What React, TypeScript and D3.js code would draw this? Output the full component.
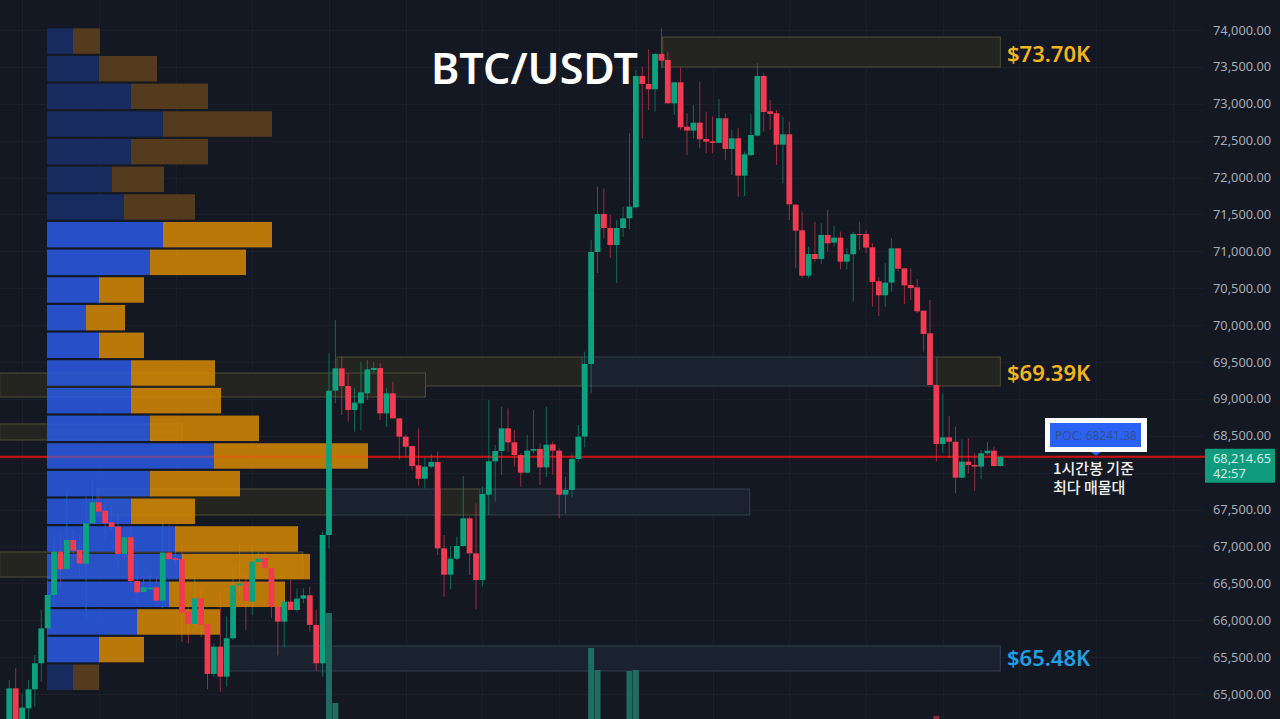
import { useEffect, useRef } from "react";
import * as d3 from "d3";

const WIDTH = 1280;
const HEIGHT = 719;

// 1h candles, oldest first
const opens = [
  64467, 65077, 64500, 64806, 65064, 65416, 65890, 66342, 66930, 66695,
  67088, 66952, 66767, 67314, 67598, 67485, 67327, 67268, 66898, 67124,
  66532, 66383, 66419, 66446, 66265, 66916, 66839, 66826, 66116, 65949,
  66297, 65945, 65272, 65642, 65235, 65755, 66469, 66514, 66252, 66790,
  66844, 66704, 66184, 65981, 66252, 66139, 66293, 66338, 65936, 65416,
  67155, 69111, 69414, 69174, 68849, 68940, 69075, 69391, 69418, 68804,
  69075, 68736, 68488, 68361, 68099, 67918, 68081, 68144, 66974, 66617,
  66834, 67006, 67381, 66906, 66545, 67702, 68153, 68294, 68601, 68411,
  68239, 68000, 68298, 68321, 68072, 68384, 68298, 67702, 67765, 68185,
  68488, 69473, 70991, 71506, 71316, 71086, 71316, 71448, 71597, 73377,
  73269, 73196, 73675, 73594, 73006, 73291, 72690, 72636, 72744, 72523,
  72491, 72469, 72803, 72388, 72532, 72026, 72306, 72568, 73377, 72898,
  72871, 72446, 72586, 71633, 71285, 70670, 70964, 70896, 71222, 71118,
  71185, 70860, 70960, 71235, 71235, 71054, 70594, 70404, 70576, 71041,
  70770, 70544, 70512, 70196, 69889, 69188, 68389, 68479, 68420, 67932,
  68149, 68104, 68082, 68262, 68298, 68090,
];
const highs = [
  65190, 65348, 65010, 65190, 65529, 66139, 66546, 67155, 67178, 67720,
  67223, 67133, 67675, 67900, 67788, 67562, 67562, 67449, 67155, 67268,
  66817, 66591, 66636, 66591, 67336, 67291, 66930, 67043, 66184, 66591,
  66455, 65958, 65687, 66365, 66049, 66771, 67043, 66636, 67020, 66930,
  66930, 66726, 66184, 66275, 66546, 66433, 66433, 66455, 66139, 67201,
  69617, 70068, 69572, 69346, 69143, 69504, 69527, 69504, 69482, 69143,
  69233, 68736, 68510, 68361, 68601, 68208, 68253, 68284, 67155, 67006,
  67132, 67955, 67404, 67584, 67810, 68985, 68375, 68894, 68872, 68578,
  68262, 68510, 68849, 68397, 68894, 68420, 68330, 67946, 68262, 68646,
  69640, 71154, 71877, 71854, 71493, 71425, 71606, 72600, 73458, 73503,
  73738, 73684, 74023, 73707, 73291, 73494, 72871, 72984, 73300, 72894,
  72826, 73061, 72871, 72645, 72668, 72351, 72857, 73549, 73413, 73052,
  72916, 72826, 72758, 71633, 71538, 71063, 71402, 71380, 71560, 71344,
  71267, 71041, 71267, 71402, 71289, 71109, 70648, 70838, 71176, 71041,
  70770, 70770, 70621, 70196, 70340, 69188, 69076, 68768, 68624, 68452,
  68466, 68262, 68307, 68420, 68353, 68217,
];
const lows = [
  64380, 64300, 64350, 64662, 64829, 65168, 65777, 66184, 66410, 66636,
  66817, 66591, 66026, 67314, 67404, 67110, 67223, 66726, 66817, 66388,
  66229, 66365, 66388, 66229, 66162, 66817, 66771, 65710, 65687, 65936,
  65777, 65064, 65235, 65032, 65100, 65732, 66320, 65868, 66071, 66771,
  66681, 66026, 65520, 65633, 66139, 66116, 66229, 65845, 65317, 65235,
  66974, 68940, 68781, 68691, 68556, 68578, 68985, 69346, 68714, 68623,
  68736, 68180, 68217, 68027, 67819, 67787, 68059, 66884, 66319, 66418,
  66816, 66997, 66613, 66147, 66455, 67426, 67607, 67968, 68284, 68081,
  67810, 67991, 68262, 67833, 67946, 67968, 67381, 67449, 67665, 68149,
  68343, 69075, 70706, 71180, 70910, 70571, 71194, 71300, 71583, 72532,
  72916, 72894, 73481, 73006, 72848, 72645, 72306, 72532, 72397, 72329,
  72329, 72464, 72238, 72035, 71741, 71750, 72293, 72555, 72622, 72645,
  72171, 71922, 71425, 70770, 70634, 70634, 70860, 70829, 70996, 71063,
  70756, 70756, 70318, 71018, 70973, 70250, 70124, 70250, 70454, 70725,
  70286, 70340, 70160, 69640, 69188, 68149, 68271, 68195, 67720, 67923,
  67991, 67756, 67910, 68240, 68082, 68082,
];
const closes = [
  65077, 64467, 64815, 65064, 65416, 65890, 66342, 66930, 66690, 67088,
  66943, 66767, 67314, 67598, 67472, 67314, 67264, 66898, 67124, 66532,
  66378, 66446, 66442, 66265, 66916, 66826, 66817, 66103, 65949, 66297,
  65936, 65272, 65642, 65235, 65755, 66469, 66500, 66261, 66794, 66835,
  66704, 66184, 65981, 66252, 66139, 66293, 66338, 65936, 65416, 67155,
  69111, 69414, 69174, 68849, 68949, 69089, 69400, 69418, 68804, 69075,
  68736, 68488, 68352, 68090, 67918, 68081, 68144, 66974, 66617, 66834,
  67006, 67381, 66906, 66545, 67711, 68153, 68294, 68601, 68411, 68239,
  68000, 68298, 68321, 68072, 68379, 68298, 67702, 67765, 68185, 68488,
  69473, 70991, 71506, 71316, 71086, 71316, 71448, 71606, 73377, 73269,
  73196, 73675, 73585, 73006, 73291, 72681, 72636, 72744, 72519, 72487,
  72469, 72803, 72388, 72532, 72026, 72315, 72577, 73377, 72889, 72862,
  72446, 72586, 71637, 71280, 70670, 70964, 70896, 71222, 71109, 71185,
  70860, 70960, 71235, 71226, 71050, 70585, 70404, 70576, 71041, 70765,
  70539, 70503, 70187, 69880, 69188, 68389, 68479, 68420, 67932, 68149,
  68104, 68082, 68262, 68298, 68090, 68214.65,
];

// only the volume bars tall enough to show at the bottom of the window
const volumeIndexes = [50, 51, 91, 92, 97, 98, 145];
const volumeValues = [5000, 3018, 4229, 3744, 3722, 3744, 2731];

const priceTicks = [
  65000, 65500, 66000, 66500, 67000, 67500, 68000, 68500, 69000, 69500,
  70000, 70500, 71000, 71500, 72000, 72500, 73000, 73500, 74000,
];
// 68,000 sits behind the last price tag
const labelTicks = priceTicks.filter((d) => d !== 68000);

// visible range volume profile, top row first
const buyVolume = [26, 52, 84, 116, 84, 65, 77, 116, 103, 52, 39, 52, 84, 84, 103, 167, 103, 84, 128, 135, 122, 90, 52, 26];
const sellVolume = [27, 58, 77, 109, 77, 52, 71, 109, 96, 45, 39, 45, 84, 90, 109, 154, 90, 64, 123, 128, 116, 83, 45, 26];
const dimRows = [0, 1, 2, 3, 4, 5, 6, 23];

// supply / demand boxes: candle range and price range
const zoneFrom = [102.2, 51.25, 89.6, 145.1, -1.5, -1.5, 13.7, 49.7, 67.4, 73.6, -1.5, 34.2];
const zoneTo = [155, 89.6, 145.1, 155, 65.1, 27, 49.7, 67.4, 73.6, 115.8, 45.9, 155];
const zoneHigh = [73905, 69568, 69568, 69568, 69351, 68660, 67779, 67779, 67779, 67779, 66925, 65651];
const zoneLow = [73498, 69175, 69175, 69175, 69026, 68443, 67426, 67426, 67426, 67426, 66586, 65312];
const zoneKind = ["supply", "supply", "demand", "supply", "supply", "supply", "supply", "demand", "supply", "demand", "supply", "demand"];

const levelLabels = ["$73.70K", "$69.39K", "$65.48K"];
const levelPrices = [73680, 69350, 65490];
const levelColors = ["#f5b41e", "#f5b41e", "#1f9fe4"];

const lastPrice = 68214.65;
const countdown = "42:57";
const pocLabel = "POC: 68241.38";
const noteLines = ["1시간봉 기준", "최다 매물대"];

const UP = "#0ca17f";
const DOWN = "#f23a50";
const KR_FONT = "'Noto Sans CJK KR', 'Noto Sans', sans-serif";

export default function App() {
  const svgRef = useRef<SVGSVGElement>(null);

  useEffect(() => {
    if (!svgRef.current) return;
    const svg = d3.select(svgRef.current);
    svg.selectAll("*").remove();

    const x = d3.scaleLinear().domain([0, 155]).range([9.3, 1000.3]);
    const y = d3.scaleLinear().domain([65000, 74000]).range([694, 30]);
    const candleIdx = d3.range(opens.length);

    svg.append("rect").attr("width", WIDTH).attr("height", HEIGHT).attr("fill", "#141822");

    // Grid
    const grid = svg.append("g").attr("stroke", "#1a1f2a").attr("stroke-width", 1);
    grid
      .selectAll("line.h")
      .data(priceTicks)
      .join("line")
      .attr("class", "h")
      .attr("x1", 0)
      .attr("x2", 1203)
      .attr("y1", (d) => Math.round(y(d)) + 0.5)
      .attr("y2", (d) => Math.round(y(d)) + 0.5);
    grid
      .selectAll("line.v")
      .data(d3.range(2, 190, 12))
      .join("line")
      .attr("class", "v")
      .attr("x1", (d) => Math.round(x(d)) + 0.5)
      .attr("x2", (d) => Math.round(x(d)) + 0.5)
      .attr("y1", 0)
      .attr("y2", HEIGHT);

    // Zones
    svg
      .append("g")
      .selectAll("rect")
      .data(zoneFrom.map((_, i) => i))
      .join("rect")
      .attr("x", (i) => x(zoneFrom[i]))
      .attr("width", (i) => x(zoneTo[i]) - x(zoneFrom[i]))
      .attr("y", (i) => y(zoneHigh[i]))
      .attr("height", (i) => y(zoneLow[i]) - y(zoneHigh[i]))
      .attr("fill", (i) => (zoneKind[i] === "supply" ? "#242520" : "#19222e"))
      .attr("stroke", (i) => (zoneKind[i] === "supply" ? "#504e39" : "#343f50"))
      .attr("stroke-width", 1);

    // Volume spikes, mostly below the window
    const vol = d3.scaleLinear().domain([0, 5000]).range([840, 613]);
    svg
      .append("g")
      .selectAll("rect")
      .data(volumeIndexes.map((_, i) => i))
      .join("rect")
      .attr("x", (i) => x(volumeIndexes[i]) - 3)
      .attr("width", 6)
      .attr("y", (i) => vol(volumeValues[i]))
      .attr("height", (i) => vol(0) - vol(volumeValues[i]))
      .attr("fill", (i) => (closes[volumeIndexes[i]] >= opens[volumeIndexes[i]] ? "#1f6d62" : "#8a2b3a"));

    // POC line
    svg
      .append("line")
      .attr("x1", 0)
      .attr("x2", 1205)
      .attr("y1", y(lastPrice))
      .attr("y2", y(lastPrice))
      .attr("stroke", "#cc1212")
      .attr("stroke-width", 2);

    // Wicks stay under the profile, bodies go on top of it
    const color = (i: number) => (closes[i] >= opens[i] ? UP : DOWN);
    svg
      .append("g")
      .selectAll("line")
      .data(candleIdx)
      .join("line")
      .attr("x1", (i) => x(i))
      .attr("x2", (i) => x(i))
      .attr("y1", (i) => y(highs[i]))
      .attr("y2", (i) => y(lows[i]))
      .attr("stroke", color)
      .attr("stroke-opacity", 0.6)
      .attr("stroke-width", 1);

    // Volume profile
    const rows = d3.scaleBand<number>().domain(d3.range(buyVolume.length)).range([28.3, 690]).paddingInner(0.08);
    const vp = d3.scaleLinear().domain([0, 321]).range([47, 368]);
    const profile = svg.append("g");
    profile
      .selectAll("rect.buy")
      .data(buyVolume)
      .join("rect")
      .attr("class", "buy")
      .attr("x", vp(0))
      .attr("y", (_, i) => rows(i) ?? 0)
      .attr("width", (d) => vp(d) - vp(0))
      .attr("height", rows.bandwidth())
      .attr("fill", (_, i) => (dimRows.includes(i) ? "#182b5e" : "#2a5ae5"))
      .attr("opacity", (_, i) => (dimRows.includes(i) ? 1 : 0.85));
    profile
      .selectAll("rect.sell")
      .data(sellVolume)
      .join("rect")
      .attr("class", "sell")
      .attr("x", (_, i) => vp(buyVolume[i]))
      .attr("y", (_, i) => rows(i) ?? 0)
      .attr("width", (d) => vp(d) - vp(0))
      .attr("height", rows.bandwidth())
      .attr("fill", (_, i) => (dimRows.includes(i) ? "#553b1d" : "#d78904"))
      .attr("opacity", (_, i) => (dimRows.includes(i) ? 1 : 0.85));
    profile
      .append("line")
      .attr("x1", vp(0))
      .attr("x2", vp(321))
      .attr("y1", y(lastPrice))
      .attr("y2", y(lastPrice))
      .attr("stroke", "#e04020")
      .attr("stroke-opacity", 0.35)
      .attr("stroke-width", 2);

    // Candle bodies
    svg
      .append("g")
      .selectAll("rect")
      .data(candleIdx)
      .join("rect")
      .attr("x", (i) => x(i) - 2.9)
      .attr("width", 5.8)
      .attr("y", (i) => y(Math.max(opens[i], closes[i])))
      .attr("height", (i) => Math.max(1, Math.abs(y(opens[i]) - y(closes[i]))))
      .attr("fill", color);

    // Price axis
    const axis = svg
      .append("g")
      .attr("transform", "translate(1213,0)")
      .call(
        d3
          .axisRight(y)
          .tickValues(labelTicks)
          .tickSize(0)
          .tickPadding(0)
          .tickFormat((d) => d3.format(",.2f")(d as number))
      );
    axis.select(".domain").remove();
    axis
      .selectAll(".tick text")
      .attr("fill", "#a8acb6")
      .attr("font-size", "12.8px")
      .attr("font-family", "'Noto Sans', sans-serif");

    // Last price tag
    const tag = svg.append("g");
    tag.append("rect").attr("x", 1205).attr("y", y(lastPrice) - 8).attr("width", 70).attr("height", 34).attr("rx", 1).attr("fill", "#0f9c7e");
    tag
      .append("text")
      .attr("x", 1213)
      .attr("y", y(lastPrice) + 6)
      .attr("fill", "#d5ece6")
      .attr("font-size", "12.8px")
      .attr("font-family", "'Noto Sans', sans-serif")
      .text(d3.format(",.2f")(lastPrice));
    tag
      .append("text")
      .attr("x", 1213)
      .attr("y", y(lastPrice) + 21)
      .attr("fill", "#d5ece6")
      .attr("font-size", "12.8px")
      .attr("font-family", "'Noto Sans', sans-serif")
      .text(countdown);

    // Title
    svg
      .append("text")
      .attr("x", 431)
      .attr("y", 84)
      .attr("fill", "#ffffff")
      .attr("font-size", "43px")
      .attr("font-weight", 600)
      .attr("font-family", "'Noto Sans', sans-serif")
      .text("BTC/USDT");

    // Level labels
    svg
      .append("g")
      .selectAll("text")
      .data(levelLabels)
      .join("text")
      .attr("x", 1007)
      .attr("y", (_, i) => y(levelPrices[i]) + 8)
      .attr("fill", (_, i) => levelColors[i])
      .attr("font-size", "22px")
      .attr("font-weight", 600)
      .attr("font-family", "'Noto Sans', sans-serif")
      .text((d) => d);

    // POC callout
    const poc = svg.append("g");
    poc.append("rect").attr("x", 1045).attr("y", 418).attr("width", 102).attr("height", 34).attr("fill", "#ffffff");
    poc.append("rect").attr("x", 1050).attr("y", 423).attr("width", 91).attr("height", 24).attr("fill", "#2962f5");
    poc
      .append("path")
      .attr("d", d3.line()([[1091, 452], [1101, 452], [1096, y(lastPrice) - 1]]) + "Z")
      .attr("fill", "#2962f5");
    poc
      .append("text")
      .attr("x", 1096)
      .attr("y", 440)
      .attr("text-anchor", "middle")
      .attr("fill", "#37508f")
      .attr("font-size", "12px")
      .attr("font-family", "'Noto Sans', sans-serif")
      .text(pocLabel);
    poc
      .selectAll("text.note")
      .data(noteLines)
      .join("text")
      .attr("class", "note")
      .attr("x", 1053)
      .attr("y", (_, i) => 474 + i * 19)
      .attr("fill", "#f2f2f2")
      .attr("font-size", "15px")
      .attr("font-weight", 500)
      .attr("font-family", KR_FONT)
      .text((d) => d);
  }, []);

  return (
    <svg
      ref={svgRef}
      width={WIDTH}
      height={HEIGHT}
      style={{ position: "absolute", left: 0, top: 0, display: "block" }}
    />
  );
}
